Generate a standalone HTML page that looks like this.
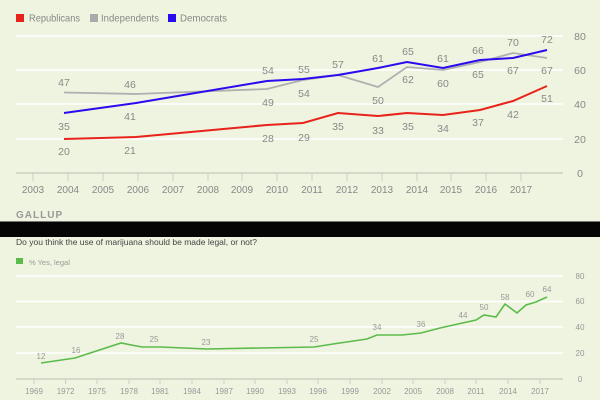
<!DOCTYPE html><html><head><style>body{margin:0;background:#eef4df;}svg{display:block;font-family:"Liberation Sans",sans-serif;}</style></head><body>
<svg width="600" height="400" viewBox="0 0 600 400">
<rect width="600" height="400" fill="#eef4df"/>
<rect x="16" y="14" width="8" height="8" fill="#e8231c"/><text x="29" y="21.5" font-size="10.5" fill="#888" textLength="51" lengthAdjust="spacingAndGlyphs">Republicans</text>
<rect x="90" y="14" width="8" height="8" fill="#aaa"/><text x="101" y="21.5" font-size="10.5" fill="#888" textLength="58" lengthAdjust="spacingAndGlyphs">Independents</text>
<rect x="168" y="14" width="8" height="8" fill="#2a0bef"/><text x="180" y="21.5" font-size="10.5" fill="#888" textLength="47" lengthAdjust="spacingAndGlyphs">Democrats</text>
<g stroke="#fff" stroke-width="1.5"><line x1="16" x2="563" y1="36" y2="36"/><line x1="16" x2="563" y1="70" y2="70"/><line x1="16" x2="563" y1="104" y2="104"/><line x1="16" x2="563" y1="139" y2="139"/></g>
<line x1="16" x2="563" y1="173" y2="173" stroke="#ccd0c4" stroke-width="1.5"/>
<g font-size="10.5" fill="#888" text-anchor="middle"><text x="580" y="40">80</text><text x="580" y="74">60</text><text x="580" y="108">40</text><text x="580" y="143">20</text><text x="580" y="177">0</text></g>
<g font-size="10" fill="#888" text-anchor="middle">
<text x="33" y="193">2003</text><text x="68" y="193">2004</text><text x="103" y="193">2005</text><text x="138" y="193">2006</text><text x="173" y="193">2007</text><text x="208" y="193">2008</text><text x="242" y="193">2009</text><text x="277" y="193">2010</text><text x="312" y="193">2011</text><text x="347" y="193">2012</text><text x="382" y="193">2013</text><text x="417" y="193">2014</text><text x="451" y="193">2015</text><text x="486" y="193">2016</text><text x="521" y="193">2017</text></g>
<g stroke="#ccd0c4" stroke-width="1"><line x1="33" x2="33" y1="173" y2="181"/><line x1="68" x2="68" y1="173" y2="181"/><line x1="103" x2="103" y1="173" y2="181"/><line x1="138" x2="138" y1="173" y2="181"/><line x1="173" x2="173" y1="173" y2="181"/><line x1="208" x2="208" y1="173" y2="181"/><line x1="242" x2="242" y1="173" y2="181"/><line x1="277" x2="277" y1="173" y2="181"/><line x1="312" x2="312" y1="173" y2="181"/><line x1="347" x2="347" y1="173" y2="181"/><line x1="382" x2="382" y1="173" y2="181"/><line x1="417" x2="417" y1="173" y2="181"/><line x1="451" x2="451" y1="173" y2="181"/><line x1="486" x2="486" y1="173" y2="181"/><line x1="521" x2="521" y1="173" y2="181"/></g>
<polyline fill="none" stroke="#b0b0b0" stroke-width="1.8" points="64,92.5 136,94 267,89 303,80 338,75 378,87 407,67 443,70 480,62 513,53 547,58"/>
<polyline fill="none" stroke="#e8231c" stroke-width="2" points="64,139 136,137 267,125 303,123 338,113 378,116 407,113 443,115 480,110 513,101 547,86"/>
<polyline fill="none" stroke="#2a0bef" stroke-width="2" points="64,113 136,103 267,81 303,79 338,75 378,68 407,62 443,68 480,60 513,58 547,50"/>
<g font-size="10.5" fill="#888" text-anchor="middle">
<text x="64" y="86">47</text><text x="130" y="88">46</text><text x="268" y="74">54</text><text x="304" y="73">55</text><text x="338" y="68">57</text><text x="378" y="62">61</text><text x="408" y="55">65</text><text x="443" y="62">61</text><text x="478" y="54">66</text><text x="513" y="46">70</text><text x="547" y="43">72</text>
<text x="64" y="130">35</text><text x="130" y="120">41</text><text x="268" y="106">49</text><text x="304" y="97">54</text><text x="378" y="104">50</text><text x="408" y="83">62</text><text x="443" y="87">60</text><text x="478" y="78">65</text><text x="513" y="74">67</text><text x="547" y="74">67</text>
<text x="64" y="155">20</text><text x="130" y="154">21</text><text x="268" y="142">28</text><text x="304" y="141">29</text><text x="338" y="130">35</text><text x="378" y="134">33</text><text x="408" y="130">35</text><text x="443" y="132">34</text><text x="478" y="126">37</text><text x="513" y="118">42</text><text x="547" y="102">51</text></g>
<text x="16" y="218" font-size="10" font-weight="bold" fill="#999" letter-spacing="1">GALLUP</text>
<rect x="0" y="221" width="600" height="16" fill="#050505"/>
<line x1="0" x2="600" y1="221.5" y2="221.5" stroke="#777"/>
<text x="16" y="245" font-size="8.5" fill="#444">Do you think the use of marijuana should be made legal, or not?</text>
<rect x="16" y="258" width="7" height="6" fill="#5cbb4a"/><text x="29" y="265" font-size="7.5" fill="#999">% Yes, legal</text>
<g stroke="#fff" stroke-width="1.5"><line x1="16" x2="563" y1="276" y2="276"/><line x1="16" x2="563" y1="301.5" y2="301.5"/><line x1="16" x2="563" y1="327" y2="327"/><line x1="16" x2="563" y1="353" y2="353"/></g>
<line x1="16" x2="563" y1="379" y2="379" stroke="#ccd0c4" stroke-width="1.5"/>
<g font-size="8" fill="#999" text-anchor="middle"><text x="580" y="279">80</text><text x="580" y="304">60</text><text x="580" y="330">40</text><text x="580" y="356">20</text><text x="580" y="382">0</text>
<text x="34" y="394">1969</text><text x="65.6" y="394">1972</text><text x="97" y="394">1975</text><text x="129" y="394">1978</text><text x="160" y="394">1981</text><text x="192" y="394">1984</text><text x="224" y="394">1987</text><text x="255" y="394">1990</text><text x="287" y="394">1993</text><text x="318" y="394">1996</text><text x="350" y="394">1999</text><text x="382" y="394">2002</text><text x="413" y="394">2005</text><text x="445" y="394">2008</text><text x="476" y="394">2011</text><text x="508" y="394">2014</text><text x="540" y="394">2017</text></g>
<g stroke="#ccd0c4"><line x1="34" x2="34" y1="379" y2="384"/><line x1="65.6" x2="65.6" y1="379" y2="384"/><line x1="97" x2="97" y1="379" y2="384"/><line x1="129" x2="129" y1="379" y2="384"/><line x1="160" x2="160" y1="379" y2="384"/><line x1="192" x2="192" y1="379" y2="384"/><line x1="224" x2="224" y1="379" y2="384"/><line x1="255" x2="255" y1="379" y2="384"/><line x1="287" x2="287" y1="379" y2="384"/><line x1="318" x2="318" y1="379" y2="384"/><line x1="350" x2="350" y1="379" y2="384"/><line x1="382" x2="382" y1="379" y2="384"/><line x1="413" x2="413" y1="379" y2="384"/><line x1="445" x2="445" y1="379" y2="384"/><line x1="476" x2="476" y1="379" y2="384"/><line x1="508" x2="508" y1="379" y2="384"/><line x1="540" x2="540" y1="379" y2="384"/></g>
<polyline fill="none" stroke="#5cbb4a" stroke-width="1.6" points="41,363 75,358 121,343 142,347 161,347 207,349 314,347 333,344 367,339 377,335 402,335 421,333 440,328 476,320 484,315 496,317 505,304 517,313 526,305 536,302 547,297"/>
<g font-size="8" fill="#999" text-anchor="middle"><text x="41" y="359">12</text><text x="76" y="353">16</text><text x="120" y="339">28</text><text x="154" y="342">25</text><text x="206" y="345">23</text><text x="314" y="342">25</text><text x="377" y="330">34</text><text x="421" y="327">36</text><text x="463" y="318">44</text><text x="484" y="310">50</text><text x="505" y="300">58</text><text x="530" y="297">60</text><text x="547" y="292">64</text></g>
</svg></body></html>
